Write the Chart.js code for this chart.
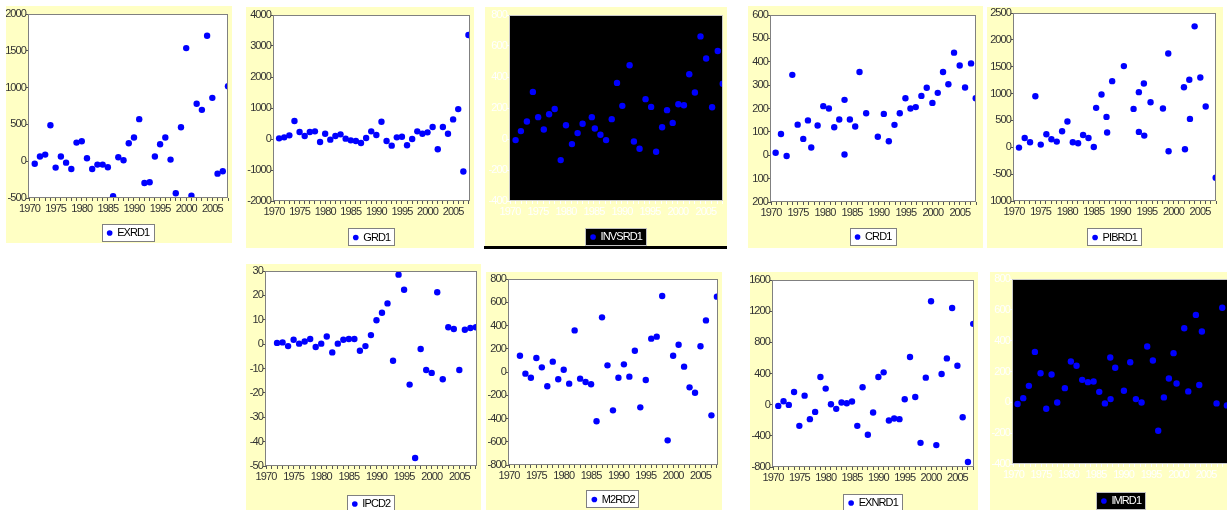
<!DOCTYPE html>
<html>
<head>
<meta charset="utf-8">
<script src="https://cdn.jsdelivr.net/npm/chart.js@4.4.1/dist/chart.umd.min.js"></script>
<style>
  html, body { margin: 0; padding: 0; overflow: hidden; background: #fff; }
  body { position: relative; width: 1227px; height: 510px; }
  .panel { position: absolute; background: #ffffc4; }
  .bar { position: absolute; background: #000; }
  canvas { position: absolute; display: block; }
</style>
</head>
<body>
<script>
// ===== DATA =====
const X_LABELS = [1970, 1975, 1980, 1985, 1990, 1995, 2000, 2005];

const YEARS_71 = [1971, 1972, 1973, 1974, 1975, 1976, 1977, 1978, 1979, 1980,
  1981, 1982, 1983, 1984, 1985, 1986, 1987, 1988, 1989, 1990,
  1991, 1992, 1993, 1994, 1995, 1996, 1997, 1998, 1999, 2000,
  2001, 2002, 2003, 2004, 2005, 2006, 2007, 2008];
const YEARS_72 = [1972, 1973, 1974, 1975, 1976, 1977, 1978, 1979, 1980,
  1981, 1982, 1983, 1984, 1985, 1986, 1987, 1988, 1989, 1990,
  1991, 1992, 1993, 1994, 1995, 1996, 1997, 1998, 1999, 2000,
  2001, 2002, 2003, 2004, 2005, 2006, 2007, 2008];

const EXRD1 = [-35, 63, 90, 489, -87, 63, -20, -105, 253, 271,
  40, -105, -46, -46, -83, -477, 54, 13, 244, 321,
  571, -296, -287, 63, 231, 321, 22, -436, 462, 1537,
  -468, 780, 698, 1705, 861, -169, -137, 1020];
const EXRD1_TICKS = [-500, 0, 500, 1000, 1500, 2000];

const GRD1 = [21, 54, 118, 579, 225, 96, 225, 246, -96, 171,
  -21, 96, 150, 11, -43, -64, -129, 32, 246, 129,
  557, -64, -214, 54, 75, -204, 0, 246, 171, 214,
  386, -332, 386, 171, 632, 964, -1050, 3354];
const GRD1_TICKS = [-2000, -1000, 0, 1000, 2000, 3000, 4000];

const INVSRD1_X = [1971.0, 1971.95, 1973.02, 1974.09, 1975.03, 1976.04, 1976.99, 1977.99, 1979.06, 1980.0,
  1981.07, 1982.08, 1982.97, 1984.62, 1985.16, 1986.16, 1987.17, 1988.18, 1989.12, 1990.07,
  1991.37, 1992.14, 1993.15, 1994.22, 1995.22, 1996.11, 1997.18, 1998.06, 1999.07, 2000.08,
  2001.08, 2002.03, 2003.04, 2004.04, 2005.05, 2006.11, 2007.12, 2008.01];
const INVSRD1 = [-7, 51, 113, 304, 141, 61, 160, 194, -136, 89,
  -33, 38, 98, 141, 68, 27, -7, 128, 362, 214,
  476, -16, -63, 257, 207, -82, 76, 186, 104, 224,
  218, 418, 300, 662, 519, 205, 568, 356];
const INVSRD1_TICKS = [-400, -200, 0, 200, 400, 600, 800];

const CRD1_X = [1970.86, 1971.85, 1972.90, 1973.95, 1974.94, 1975.98, 1976.85, 1977.46, 1978.64, 1979.69,
  1980.73, 1981.72, 1982.65, 1983.63, 1983.63, 1984.62, 1985.61, 1986.41, 1987.64, 1989.80,
  1990.91, 1991.84, 1992.89, 1993.87, 1994.92, 1995.85, 1996.83, 1997.88, 1998.87, 1999.92,
  2000.91, 2001.89, 2002.88, 2003.93, 2004.98, 2005.97, 2007.08, 2007.95];
const CRD1 = [11, 91, -3, 344, 131, 70, 149, 33, 127, 210,
  200, 120, 153, 237, 3, 153, 123, 356, 180, 79,
  177, 60, 130, 180, 244, 200, 206, 254, 289, 224,
  267, 356, 304, 439, 384, 290, 393, 244];
const CRD1_TICKS = [-200, -100, 0, 100, 200, 300, 400, 500, 600];

const PIBRD1_X = [1970.94, 1972.01, 1973.02, 1974.02, 1975.03, 1976.09, 1977.04, 1978.04, 1979.05, 1980.05,
  1981.06, 1982.06, 1983.00, 1984.01, 1985.01, 1985.45, 1986.46, 1987.40, 1987.52, 1988.47,
  1990.67, 1992.49, 1993.49, 1993.49, 1994.43, 1994.50, 1995.69, 1998.02, 1999.02, 1999.08,
  2001.97, 2002.16, 2002.98, 2003.10, 2003.98, 2005.05, 2006.06, 2007.94];
const PIBRD1 = [-6, 174, 93, 951, 50, 242, 149, 106, 298, 479,
  93, 75, 230, 174, 6, 734, 982, 566, 274, 1231,
  1511, 715, 1026, 286, 1187, 218, 839, 721, 1747, -75,
  1119, -37, 1256, 528, 2251, 1299, 758, -566];
const PIBRD1_TICKS = [-1000, -500, 0, 500, 1000, 1500, 2000, 2500];

const IPCD2 = [0.5, 0.7, -0.8, 1.8, 0.2, 1.1, 2.1, -1.2, 0.2, 3.1,
  -3.4, 0.2, 1.8, 2.1, 2.1, -2.7, -0.8, 3.7, 9.8, 12.9,
  16.7, -6.8, 28.5, 22.3, -16.6, -46.7, -2.0, -10.6, -11.8, 21.3,
  -14.4, 6.9, 6.2, -10.6, 5.9, 6.6, 6.9];
const IPCD2_TICKS = [-50, -40, -30, -20, -10, 0, 10, 20, 30];

const M2RD2 = [140, -14, -49, 120, 40, -123, 89, -63, 20, -100,
  358, -57, -86, -106, -424, 470, 57, -330, -49, 66,
  -40, 183, -304, -69, 287, 304, 654, -588, 140, 235,
  46, -132, -178, 221, 444, -373, 648];
const M2RD2_TICKS = [-800, -600, -400, -200, 0, 200, 400, 600, 800];

const EXNRD1 = [-16, 44, -3, 163, -272, 116, -186, -93, 355, 206,
  6, -54, 27, 18, 40, -272, 223, -387, -101, 355,
  415, -203, -178, -186, 70, 611, 99, -490, 347, 1327,
  -519, 394, 594, 1241, 500, -161, -736, 1037];
const EXNRD1_TICKS = [-800, -400, 0, 400, 800, 1200, 1600];

const IMRD1_X = [1970.73, 1971.76, 1972.79, 1973.88, 1974.91, 1975.94, 1976.91, 1977.94, 1979.33, 1980.42,
  1981.45, 1982.48, 1983.52, 1984.55, 1985.58, 1986.61, 1987.58, 1987.64, 1988.48, 1990.06,
  1991.21, 1992.24, 1993.27, 1994.30, 1995.33, 1996.30, 1997.33, 1998.24, 1999.09, 1999.64,
  2001.03, 2001.76, 2003.15, 2003.76, 2004.24, 2006.91, 2007.94, 2008.79];
const IMRD1 = [-11, 27, 107, 327, 189, -42, 181, -1, 92, 265,
  237, 146, 131, 135, 68, -7, 291, 21, 224, 75,
  260, 21, -1, 362, 271, -184, 32, 155, 319, 122,
  481, 71, 567, 112, 459, -7, 614, -20];
const IMRD1_TICKS = [-400, -200, 0, 200, 400, 600, 800];

// ===== LAYOUT (page pixels: box = yellow panel, plot = chart area) =====
const PANELS = [
  { name: "EXRD1", xs: YEARS_71, ys: EXRD1, yTicks: EXRD1_TICKS, xMin: 1969.9, xMax: 2008,
    box: [6, 6, 232, 243], plot: [29, 14, 230, 198], legendY: 233 },
  { name: "GRD1", xs: YEARS_71, ys: GRD1, yTicks: GRD1_TICKS, xMin: 1970, xMax: 2008.3,
    box: [246, 7, 474, 248], plot: [274, 15, 471, 201], legendY: 237.5 },
  { name: "INVSRD1", xs: INVSRD1_X, ys: INVSRD1, yTicks: INVSRD1_TICKS, xMin: 1970, xMax: 2008.06, dark: true,
    box: [485, 7, 727, 247], plot: [510, 15, 723, 201], legendY: 237 },
  { name: "CRD1", xs: CRD1_X, ys: CRD1, yTicks: CRD1_TICKS, xMin: 1970, xMax: 2008, cutMinusAt: -100,
    box: [748, 6, 983, 248], plot: [771, 15, 976, 202], legendY: 237 },
  { name: "PIBRD1", xs: PIBRD1_X, ys: PIBRD1, yTicks: PIBRD1_TICKS, xMin: 1970, xMax: 2008, cutMinusAt: -1000,
    box: [987, 7, 1223, 248], plot: [1014, 13, 1216, 201], legendY: 237.5 },
  { name: "IPCD2", xs: YEARS_72, ys: IPCD2, yTicks: IPCD2_TICKS, xMin: 1970, xMax: 2008.2,
    box: [246, 264, 481, 515], plot: [266, 271, 479, 466], legendY: 504 },
  { name: "M2RD2", xs: YEARS_72, ys: M2RD2, yTicks: M2RD2_TICKS, xMin: 1970, xMax: 2008.2,
    box: [486, 272, 722, 515], plot: [509, 279, 719, 465], legendY: 499.5 },
  { name: "EXNRD1", xs: YEARS_71, ys: EXNRD1, yTicks: EXNRD1_TICKS, xMin: 1970, xMax: 2008.15,
    box: [750, 272, 978, 515], plot: [773, 280, 975, 467], legendY: 503 },
  { name: "IMRD1", xs: IMRD1_X, ys: IMRD1, yTicks: IMRD1_TICKS, xMin: 1969.9, xMax: 2009.35, dark: true,
    box: [990, 272, 1236, 515], plot: [1013, 279, 1230, 464], legendY: 501 }
];

const FONT = "'Liberation Sans', Arial, sans-serif";
const FONT_SIZE = 11;
const LETTER_SPACING = "-0.9px";   // squeezes the text to the narrow screen font of the original
Chart.defaults.font.family = FONT;
Chart.defaults.font.size = FONT_SIZE;

const LEGEND_PAD = 4;
const ITEM_H = FONT_SIZE;

// plot background, legend frame and plot border
const panelFrame = {
  id: "panelFrame",
  beforeLayout(chart) {
    chart.ctx.letterSpacing = LETTER_SPACING;
  },
  beforeDraw(chart, args, opts) {
    const { ctx, chartArea: a } = chart;
    ctx.letterSpacing = LETTER_SPACING;
    ctx.save();
    ctx.fillStyle = opts.plotBg;
    ctx.fillRect(a.left, a.top, a.right - a.left, a.bottom - a.top);
    const hb = chart.legend && chart.legend.legendHitBoxes[0];
    if (hb) {
      const l = Math.round(hb.left - 6), t = Math.round(hb.top - 4);
      const w = Math.round(hb.width + 10), h = Math.round(hb.height + 6);
      ctx.fillStyle = opts.plotBg;
      ctx.fillRect(l, t, w, h);
      ctx.strokeStyle = opts.legendEdge;
      ctx.lineWidth = 1;
      ctx.strokeRect(l + 0.5, t + 0.5, w, h);
    }
    ctx.restore();
  },
  afterDatasetsDraw(chart, args, opts) {
    const { ctx, chartArea: a } = chart;
    ctx.save();
    ctx.strokeStyle = opts.edge;
    ctx.lineWidth = 1;
    ctx.strokeRect(Math.round(a.left) - 0.5, Math.round(a.top) + 0.5,
      Math.round(a.right - a.left), Math.round(a.bottom - a.top) - 1);
    ctx.restore();
  }
};

function drawPanel(p) {
  const [bl, bt, br, bb] = p.box;
  const [pl, pt, pr, pb] = p.plot;

  const bg = document.createElement("div");
  bg.className = "panel";
  bg.style.cssText = `left:${bl}px;top:${bt}px;width:${br - bl}px;height:${bb - bt}px`;
  document.body.appendChild(bg);

  // legend box = padding + item + padding-less tail of 10px (Chart.js legend fit)
  const legendTop = p.legendY - ITEM_H / 2 - LEGEND_PAD;
  const legendBottom = legendTop + ITEM_H + LEGEND_PAD + 10 - bt;
  const w = br - bl;
  const h = Math.ceil(legendBottom);
  const canvas = document.createElement("canvas");
  canvas.width = w;
  canvas.height = h;
  canvas.style.cssText = `left:${bl}px;top:${bt}px;width:${w}px;height:${h}px`;
  document.body.appendChild(canvas);
  canvas.getContext("2d").letterSpacing = LETTER_SPACING;

  const textColor = p.dark ? "#ffffff" : "#333333";
  const tickColor = p.dark ? "#ffffff" : "#555555";
  const xAxisH = legendTop - pb;

  new Chart(canvas, {
    type: "scatter",
    data: {
      datasets: [{
        label: p.name,
        data: p.xs.map((x, i) => ({ x: x, y: p.ys[i] })),
        pointStyle: "circle",
        pointRadius: 3.2,
        pointBorderWidth: 0,
        pointBackgroundColor: "#0000ff",
        pointBorderColor: "#0000ff",
        backgroundColor: "#0000ff",
        borderColor: "#0000ff",
        clip: 0
      }]
    },
    options: {
      responsive: false,
      animation: false,
      devicePixelRatio: 1,
      events: [],
      layout: {
        padding: { left: 0, top: pt - bt, right: br - pr, bottom: h - legendBottom }
      },
      scales: {
        x: {
          type: "linear",
          min: p.xMin,
          max: p.xMax,
          afterBuildTicks: s => {
            const t = [];
            for (let y = Math.ceil(s.min); y <= Math.floor(s.max); y++) t.push({ value: y });
            s.ticks = t;
          },
          afterFit: s => {
            s.height = xAxisH;
            s.paddingLeft = 0;
            s.paddingRight = 0;
          },
          ticks: {
            autoSkip: false,
            maxRotation: 0,
            minRotation: 0,
            padding: 1,
            color: textColor,
            callback: v => X_LABELS.includes(v) ? String(v) : ""
          },
          grid: { drawOnChartArea: false, drawTicks: true, tickLength: 3, color: tickColor },
          border: { display: false }
        },
        y: {
          type: "linear",
          min: p.yTicks[0],
          max: p.yTicks[p.yTicks.length - 1],
          afterBuildTicks: s => {
            s.ticks = p.yTicks.map(v => ({ value: v }));
          },
          afterFit: s => {
            s.width = pl - bl;
            s.paddingTop = 0;
            s.paddingBottom = 0;
          },
          ticks: {
            padding: 0,
            color: textColor,
            callback: v => (p.cutMinusAt !== undefined && v <= p.cutMinusAt) ? String(-v) : String(v)
          },
          grid: { drawOnChartArea: false, drawTicks: true, tickLength: 3, color: tickColor },
          border: { display: false }
        }
      },
      plugins: {
        tooltip: { enabled: false },
        legend: {
          display: true,
          position: "bottom",
          fullSize: false,
          labels: {
            usePointStyle: true,
            pointStyle: "circle",
            boxWidth: 4,
            boxHeight: 4,
            padding: LEGEND_PAD,
            color: p.dark ? "#ffffff" : "#000000",
            font: { size: FONT_SIZE, family: FONT }
          }
        },
        panelFrame: {
          plotBg: p.dark ? "#000000" : "#ffffff",
          legendEdge: p.dark ? "#c0c0c0" : "#808080",
          edge: p.dark ? "#c8c8c8" : "#808080"
        }
      }
    },
    plugins: [panelFrame]
  });
}

PANELS.forEach(drawPanel);

// black rule under the INVSRD1 panel
const rule = document.createElement("div");
rule.className = "bar";
rule.style.cssText = "left:484px;top:246px;width:243px;height:3px";
document.body.appendChild(rule);
</script>
</body>
</html>
